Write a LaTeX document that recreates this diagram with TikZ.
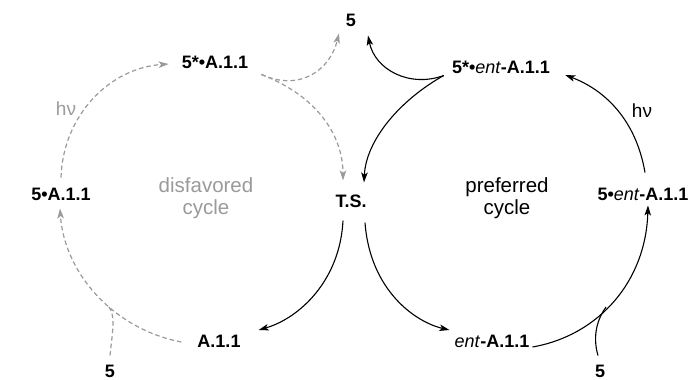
\documentclass[tikz,border=0pt]{standalone}
\usepackage{fontspec}
\setmainfont{Liberation Sans}
\usetikzlibrary{arrows.meta}
\definecolor{dgray}{HTML}{9A9A9A}
\begin{document}
\begin{tikzpicture}[x=1pt,y=-1pt,
  lab/.style={font=\fontsize{18}{20}\selectfont\bfseries, inner sep=1pt},
  note/.style={font=\fontsize{20.5}{22}\selectfont, align=center, inner sep=0pt},
  hvlab/.style={font=\fontsize{19}{20}\selectfont, inner sep=0pt},
  fw/.style={line width=1.1pt, -{Stealth[length=10pt,width=6.5pt,inset=2.5pt]}},
  fwplain/.style={line width=1.1pt},
  fg/.style={line width=1.2pt, draw=dgray, dash pattern=on 4.5pt off 3pt, -{Stealth[length=10pt,width=6.5pt,inset=2.5pt]}},
  fgplain/.style={line width=1.2pt, draw=dgray, dash pattern=on 4.5pt off 3pt},
]
\useasboundingbox (0,0) rectangle (696,380);

% labels
\node[lab] (top5) at (351,20) {5};
\node[lab] (s1) at (215,62) {5*•A.1.1};
\node[lab] (s2) at (501,67) {5*•\textit{\mdseries ent}-A.1.1};
\node[lab] (c1) at (61,194) {5•A.1.1};
\node[lab] (ts) at (351,201) {T.S.};
\node[lab] (c2) at (643,194) {5•\textit{\mdseries ent}-A.1.1};
\node[lab] (a1) at (219,341) {A.1.1};
\node[lab] (a2) at (492,341) {\textit{\mdseries ent}-A.1.1};
\node[lab] (b5l) at (110,371) {5};
\node[lab] (b5r) at (600,371) {5};
\node[note, text=dgray] (dis) at (206,198) {disfavored\\cycle};
\node[note] (pre) at (507,198) {preferred\\cycle};
\node[hvlab, text=dgray] (hv1) at (66,109) {hν};
\node[hvlab] (hv2) at (642,111) {hν};

% disfavored cycle (grey dashed)
\draw[fg] ([yshift=9pt]c1.north) .. controls (63,115) and (110,68) .. ([shift={(-12pt,-2pt)}]s1.west);
\draw[fg] ([shift={(12pt,-5pt)}]s1.south east) .. controls (300,92) and (330,70) .. ([shift={(-12pt,-6pt)}]top5.south);
\draw[fg] ([shift={(12pt,-5pt)}]s1.south east) .. controls (322,98) and (343,140) .. ([shift={(-8pt,13pt)}]ts.north);
\draw[fg] ([shift={(-15pt,-1pt)}]a1.west) .. controls (110,328) and (64,270) .. ([shift={(-1pt,-7pt)}]c1.south);
\coordinate (jl) at (109,307);
\draw[fgplain] ([yshift=8pt]b5l.north) .. controls (112,335) and (116,316) .. (jl);

% black arrow T.S. -> A.1.1
\draw[fw] ([shift={(-8pt,-12pt)}]ts.south) .. controls (340,280) and (300,318) .. ([shift={(17pt,11pt)}]a1.east);

% preferred cycle (black)
\draw[fw] ([shift={(-7pt,-1pt)}]s2.south west) .. controls (410,88) and (375,70) .. ([shift={(17pt,-8pt)}]top5.south);
\draw[fw] ([shift={(-7pt,-1pt)}]s2.south west) .. controls (400,100) and (366,140) .. ([shift={(13pt,11pt)}]ts.north);
\draw[fw] ([shift={(14pt,-14pt)}]ts.south) .. controls (370,290) and (415,322) .. ([shift={(-4pt,11pt)}]a2.west);
\draw[fw] ([shift={(2pt,-6pt)}]a2.east) .. controls (600,335) and (646,280) .. ([shift={(5pt,-4pt)}]c2.south);
\coordinate (jr) at (606,307);
\draw[fwplain] ([shift={(-2pt,8pt)}]b5r.north) .. controls (592,335) and (598,318) .. (jr);
\draw[fw] ([shift={(2pt,14pt)}]c2.north) .. controls (636,120) and (605,90) .. ([shift={(14pt,-8pt)}]s2.east);
\end{tikzpicture}
\end{document}
